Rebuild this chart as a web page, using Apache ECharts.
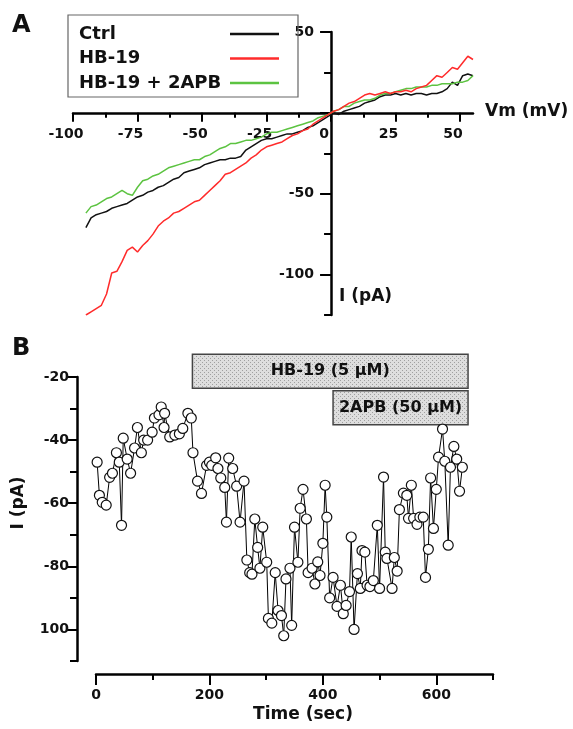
<!DOCTYPE html>
<html>
<head>
<meta charset="utf-8">
<script src="https://cdn.jsdelivr.net/npm/echarts@6/dist/echarts.min.js"></script>
<style>
  html, body { margin: 0; padding: 0; background: #fff; }
  #main { width: 573px; height: 729px; }
</style>
</head>
<body>
<div id="main"></div>
<script>
// Panel A: I-V curves (voltage ramp, mV) and currents (pA)
const vm = [-95, -93, -91, -89, -87, -85, -83, -81, -79, -77, -75, -73, -71, -69, -67, -65, -63, -61, -59, -57,
  -55, -53, -51, -49, -47, -45, -43, -41, -39, -37, -35, -33, -31, -29, -27, -25, -23, -21, -19, -17,
  -15, -13, -11, -9, -7, -5, -3, -1, 1, 3, 5, 7, 9, 11, 13, 15, 17, 19, 21, 23,
  25, 27, 29, 31, 33, 35, 37, 39, 41, 43, 45, 47, 49, 51, 53, 55];
const ctrl = [-71, -65, -63, -62, -61, -59, -58, -57, -56, -54, -52, -51, -49, -48, -46, -45, -43, -41, -40, -37,
  -36, -35, -34, -32, -31, -30, -29, -29, -28, -28, -27, -23, -21, -19, -17, -16, -16, -15, -14, -13,
  -13, -12, -11, -9, -8, -6, -4, -2, 0, -1, 1, 2, 3, 4, 6, 7, 8, 10, 11, 11,
  12, 11, 12, 11, 12, 12, 11, 12, 12, 13, 15, 19, 17, 23, 24, 23];
const hb19 = [-125, -123, -121, -119, -112, -99, -98, -92, -85, -83, -86, -82, -79, -75, -70, -67, -65, -62, -61, -59,
  -57, -55, -54, -51, -48, -45, -42, -38, -37, -35, -33, -31, -28, -26, -23, -21, -20, -19, -18, -16,
  -14, -13, -11, -10, -7, -5, -3, -1, 1, 2, 4, 6, 7, 9, 11, 12, 11, 12, 13, 12,
  13, 13, 14, 13, 15, 16, 17, 20, 23, 22, 25, 28, 27, 31, 35, 33];
const hb19Apb = [-62, -58, -57, -55, -53, -52, -50, -48, -50, -51, -46, -42, -41, -39, -38, -36, -34, -33, -32, -31,
  -30, -29, -29, -27, -26, -24, -22, -21, -19, -19, -18, -17, -17, -16, -15, -13, -12, -12, -11, -10,
  -9, -8, -7, -6, -5, -3, -2, -1, 1, 2, 4, 4, 6, 7, 8, 8, 9, 11, 12, 12,
  13, 14, 15, 15, 16, 16, 16, 17, 17, 18, 18, 18, 19, 19, 20, 23];

// Panel B: current over time
const timeSec = [2, 6, 11, 18, 24, 29, 36, 41, 45, 48, 55, 61, 68, 73, 80, 84, 91, 99, 103, 111,
  115, 120, 121, 130, 139, 147, 153, 162, 168, 171, 179, 186, 195, 200, 204, 211, 215, 220, 227, 230,
  234, 241, 248, 254, 261, 266, 271, 275, 280, 285, 289, 294, 301, 304, 310, 316, 321, 327, 331, 335,
  342, 345, 350, 356, 360, 365, 371, 374, 381, 386, 391, 395, 400, 404, 407, 412, 418, 425, 431, 436,
  441, 447, 450, 455, 461, 466, 469, 474, 478, 483, 489, 496, 500, 507, 510, 513, 522, 526, 531, 535,
  542, 548, 551, 556, 560, 566, 571, 577, 581, 586, 590, 595, 600, 604, 611, 615, 621, 625, 631, 636,
  641, 646];
const currentPA = [-47, -57.5, -59.7, -60.6, -51.8, -50.5, -44, -47, -67, -39.4, -46, -50.5, -42.5, -36, -44, -40, -40, -37.5, -33, -32,
  -29.5, -36, -31.5, -39, -38.4, -38, -36.3, -31.5, -33, -44, -53, -56.9, -48, -47, -48, -45.6, -49, -52, -55, -66,
  -45.7, -49, -54.6, -66, -53, -78, -82, -82.5, -65, -74, -80.6, -67.6, -78.7, -96.5, -98, -82, -94, -95.6, -102, -84,
  -80.6, -98.7, -67.6, -78.7, -61.6, -55.6, -65, -82, -80.6, -85.6, -78.6, -82.9, -72.7, -54.3, -64.4, -90, -83.5, -92.7, -86, -95,
  -92.4, -88, -70.7, -100, -82.3, -87, -75, -75.5, -86, -86.4, -84.5, -67, -87, -51.7, -75.5, -77.5, -87, -77.2, -81.5, -62,
  -56.8, -57.5, -64.8, -54.3, -64.8, -66.7, -64.4, -64.4, -83.5, -74.6, -52, -68, -55.6, -45.4, -36.5, -46.7, -73.3, -48.6, -42, -46,
  -56.2, -48.6];

const treatments = ['HB-19 (5 μM)', '2APB (50 μM)'];
const treatStart = [170, 418];
const treatEnd = [656, 656];

// tick values
const aXMajor = [-100, -75, -50, -25, 0, 25, 50];
const aXMinor = [-87.5, -62.5, -37.5, -12.5, 12.5, 37.5];
const aYMajor = [50, 0, -50, -100];
const aYLabels = [50, -50, -100];
const aYMinor = [25, -25, -75, -125];
const bXMajor = [0, 200, 400, 600];
const bXMinor = [100, 300, 500, 700];
const bYMajor = [-20, -40, -60, -80, -100];
const bYMinor = [-30, -50, -70, -90, -110];

const FONT = '"DejaVu Sans", sans-serif';
const AXIS = { color: '#000', width: 2.5 };
const NOLINE = { color: 'rgba(0,0,0,0)', width: 0 };
const tickLbl = { fontFamily: FONT, fontWeight: 'bold', fontSize: 14, color: '#111' };

// panel A axes cross at the origin: grid A spans x 73..473, y 32..315
const A_LEFT = 73, A_TOP = 32, A_W = 400, A_H = 283;
const xZeroOffset = -(A_H * 125 / 175);   // move bottom axis up to I = 0
const yZeroOffset = -(A_W * 100 / 155);   // move left axis right to Vm = 0

function hatch() {
  const c = document.createElement('canvas');
  c.width = 4; c.height = 4;
  const g = c.getContext('2d');
  g.fillStyle = '#dedede';
  g.fillRect(0, 0, 4, 4);
  g.fillStyle = '#a0a0a0';
  g.fillRect(0, 0, 1, 1);
  g.fillRect(2, 2, 1, 1);
  return c;
}
const hatchImg = hatch();

const chart = echarts.init(document.getElementById('main'));

function ivSeries(name, arr, color) {
  return {
    name, type: 'line', xAxisIndex: 0, yAxisIndex: 0,
    data: vm.map((v, i) => [v, arr[i]]),
    symbol: 'none', lineStyle: { color, width: 1.5 }, itemStyle: { color },
  };
}

const option = {
  animation: false,
  backgroundColor: '#fff',
  grid: [
    { left: A_LEFT, top: A_TOP, width: A_W, height: A_H },
    { left: 96, top: 377, width: 397, height: 284 },
    { left: 96, top: 353, width: 397, height: 73 },
  ],
  legend: {
    data: ['Ctrl', 'HB-19', 'HB-19 + 2APB'],
    orient: 'vertical', align: 'right',
    left: 68, top: 15,
    padding: [10, 19, 5, 11],
    itemGap: 6.5, itemWidth: 49, itemHeight: 2.5,
    icon: 'rect',
    borderColor: '#666', borderWidth: 1.2,
    formatter: (n) => '{t|' + n + '}',
    textStyle: {
      rich: { t: { width: 146, align: 'left', fontFamily: FONT, fontWeight: 'bold', fontSize: 18, color: '#111' } },
    },
  },
  xAxis: [
    { gridIndex: 0, type: 'value', min: -100, max: 55, offset: xZeroOffset,
      axisLine: { onZero: false, lineStyle: AXIS },
      axisTick: { customValues: aXMajor, length: 9, lineStyle: { width: 2 } },
      axisLabel: { customValues: aXMajor, margin: 15, padding: [0, 14, 0, 0], ...tickLbl },
      splitLine: { show: false } },
    { gridIndex: 0, type: 'value', min: -100, max: 55, position: 'bottom', offset: xZeroOffset,
      axisLine: { onZero: false, lineStyle: NOLINE },
      axisTick: { customValues: aXMinor, length: 5, lineStyle: { width: 2, color: '#000' } },
      axisLabel: { show: false }, splitLine: { show: false } },
    { gridIndex: 1, type: 'value', min: 0, max: 700, offset: 13,
      axisLine: { onZero: false, lineStyle: AXIS },
      axisTick: { customValues: bXMajor, length: 11, lineStyle: { width: 2 } },
      axisLabel: { customValues: bXMajor, margin: 14, ...tickLbl },
      splitLine: { show: false } },
    { gridIndex: 1, type: 'value', min: 0, max: 700, offset: 13, position: 'bottom',
      axisLine: { onZero: false, lineStyle: NOLINE },
      axisTick: { customValues: bXMinor, length: 6, lineStyle: { width: 2, color: '#000' } },
      axisLabel: { show: false }, splitLine: { show: false } },
    { gridIndex: 2, type: 'value', min: 0, max: 700, show: false },
  ],
  yAxis: [
    { gridIndex: 0, type: 'value', min: -125, max: 50, offset: yZeroOffset,
      axisLine: { onZero: false, lineStyle: AXIS },
      axisTick: { customValues: aYMajor, length: 11, lineStyle: { width: 2 } },
      axisLabel: { customValues: aYLabels, margin: 17, ...tickLbl },
      splitLine: { show: false } },
    { gridIndex: 0, type: 'value', min: -125, max: 50, position: 'left', offset: yZeroOffset,
      axisLine: { onZero: false, lineStyle: NOLINE },
      axisTick: { customValues: aYMinor, length: 7, lineStyle: { width: 2, color: '#000' } },
      axisLabel: { show: false }, splitLine: { show: false } },
    { gridIndex: 1, type: 'value', min: -110, max: -20, offset: 19,
      axisLine: { onZero: false, lineStyle: AXIS },
      axisTick: { customValues: bYMajor, length: 11, lineStyle: { width: 2 } },
      axisLabel: { customValues: bYMajor, margin: 8, formatter: (v) => (v === -100 ? '100' : String(v)), ...tickLbl },
      splitLine: { show: false } },
    { gridIndex: 1, type: 'value', min: -110, max: -20, offset: 19, position: 'left',
      axisLine: { onZero: false, lineStyle: NOLINE },
      axisTick: { customValues: bYMinor, length: 7, lineStyle: { width: 2, color: '#000' } },
      axisLabel: { show: false }, splitLine: { show: false } },
    { gridIndex: 2, type: 'category', data: treatments, inverse: true, show: false },
  ],
  series: [
    ivSeries('Ctrl', ctrl, '#111111'),
    ivSeries('HB-19 + 2APB', hb19Apb, '#5cc341'),
    ivSeries('HB-19', hb19, '#ff2b2b'),
    {
      name: 'time course', type: 'line', xAxisIndex: 2, yAxisIndex: 2,
      data: timeSec.map((t, i) => [t, currentPA[i]]),
      symbol: 'circle', symbolSize: 10, showAllSymbol: true, clip: false,
      lineStyle: { color: '#000', width: 1 },
      itemStyle: { color: '#fff', borderColor: '#111', borderWidth: 1.2 },
    },
    {
      name: 'treatments', type: 'custom', xAxisIndex: 4, yAxisIndex: 4,
      encode: { x: [0, 1], y: 2 },
      data: treatments.map((t, i) => [treatStart[i], treatEnd[i], i]),
      renderItem(params, api) {
        const s = api.coord([api.value(0), api.value(2)]);
        const e = api.coord([api.value(1), api.value(2)]);
        const h = api.size([0, 1])[1] * 0.93;
        return {
          type: 'group',
          children: [
            { type: 'rect', shape: { x: s[0], y: s[1] - h / 2, width: e[0] - s[0], height: h },
              style: { fill: { image: hatchImg, repeat: 'repeat' }, stroke: '#444', lineWidth: 1.5 } },
            { type: 'text',
              style: { text: treatments[params.dataIndex], x: (s[0] + e[0]) / 2, y: s[1],
                align: 'center', verticalAlign: 'middle', font: 'bold 16px ' + FONT, fill: '#111' } },
          ],
        };
      },
    },
  ],
  graphic: [
    { type: 'text', left: 12, top: 14, style: { text: 'A', font: 'bold 24px ' + FONT, fill: '#111' } },
    { type: 'text', left: 12, top: 337, style: { text: 'B', font: 'bold 24px ' + FONT, fill: '#111' } },
    { type: 'text', x: 485, y: 112, style: { text: 'Vm (mV)', font: 'bold 17px ' + FONT, fill: '#111', verticalAlign: 'middle' } },
    { type: 'text', x: 339, y: 297, style: { text: 'I (pA)', font: 'bold 17px ' + FONT, fill: '#111', verticalAlign: 'middle' } },
    { type: 'text', x: 19, y: 503, rotation: Math.PI / 2,
      style: { text: 'I (pA)', font: 'bold 17px ' + FONT, fill: '#111', align: 'center', verticalAlign: 'middle' } },
    { type: 'text', x: 303, y: 715, style: { text: 'Time (sec)', font: 'bold 17px ' + FONT, fill: '#111', align: 'center', verticalAlign: 'middle' } },
  ],
};

chart.setOption(option);
</script>
</body>
</html>
